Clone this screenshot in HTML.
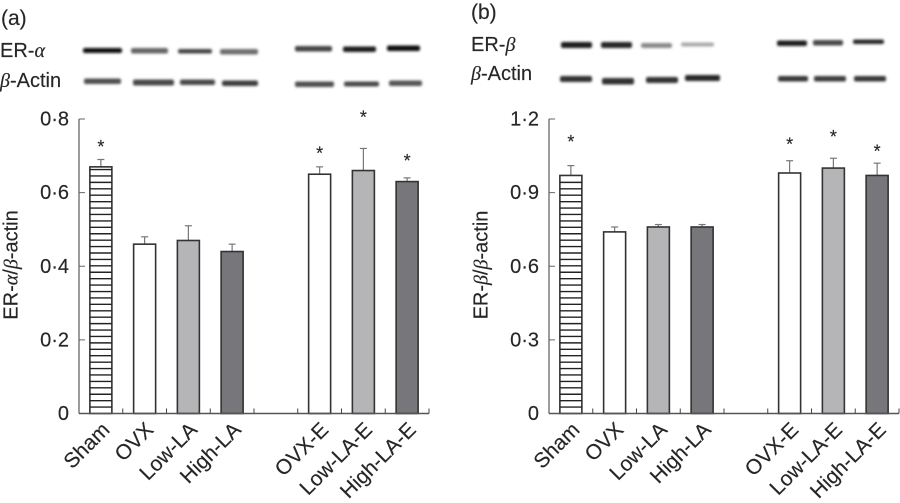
<!DOCTYPE html>
<html lang="en">
<head>
<meta charset="utf-8">
<title>ER-alpha and ER-beta western blots</title>
<style>
html,body{margin:0;padding:0;background:#fff;width:900px;height:503px;overflow:hidden}
svg{display:block}
text{font-family:"Liberation Sans",sans-serif;fill:#262626;stroke:#262626;stroke-width:0.15px}
.gr{font-family:"Liberation Serif",serif;font-style:italic}
</style>
</head>
<body>
<svg id="fig" width="900" height="503" viewBox="0 0 900 503" xmlns="http://www.w3.org/2000/svg">
<defs>
<filter id="blur" x="-20%" y="-200%" width="140%" height="500%"><feGaussianBlur stdDeviation="1.2"/></filter>
</defs>
<rect width="900" height="503" fill="#fff"/>

<text x="1" y="25" font-size="21">(a)</text>
<text x="0" y="57" font-size="20">ER-<tspan class="gr">α</tspan></text>
<text x="0" y="87" font-size="20"><tspan class="gr">β</tspan>-Actin</text>
<text x="471" y="19" font-size="21">(b)</text>
<text x="471" y="51" font-size="20">ER-<tspan class="gr">β</tspan></text>
<text x="471" y="80" font-size="20"><tspan class="gr">β</tspan>-Actin</text>

<g filter="url(#blur)">
<rect x="83" y="48" width="39" height="5" rx="2" fill="#111"/>
<rect x="131" y="48" width="37" height="5.5" rx="2" fill="#666"/>
<rect x="178" y="49" width="34" height="4.5" rx="2" fill="#444"/>
<rect x="220" y="49" width="38" height="5.5" rx="2" fill="#6e6e6e"/>
<rect x="295" y="46" width="37" height="5.5" rx="2" fill="#444"/>
<rect x="343" y="46.5" width="33" height="5.5" rx="2" fill="#1c1c1c"/>
<rect x="387" y="45.5" width="33" height="5.5" rx="2" fill="#111"/>
</g>
<g filter="url(#blur)">
<rect x="84" y="78.5" width="37" height="5.5" rx="2" fill="#505050"/>
<rect x="133" y="79.5" width="41" height="6" rx="2" fill="#4a4a4a"/>
<rect x="180" y="79.5" width="35" height="5.5" rx="2" fill="#4a4a4a"/>
<rect x="222" y="80.5" width="36" height="5.5" rx="2" fill="#3c3c3c"/>
<rect x="295" y="81.5" width="39" height="5.5" rx="2" fill="#505050"/>
<rect x="344" y="81.5" width="35" height="5" rx="2" fill="#484848"/>
<rect x="389" y="80.5" width="33" height="5.5" rx="2" fill="#555"/>
</g>
<g filter="url(#blur)">
<rect x="561" y="42" width="31" height="6" rx="2" fill="#1a1a1a"/>
<rect x="601" y="42" width="31" height="6" rx="2" fill="#282828"/>
<rect x="641" y="43" width="31" height="5" rx="2" fill="#8a8a8a"/>
<rect x="681" y="42.5" width="33" height="4" rx="2" fill="#a8a8a8"/>
<rect x="777" y="40.5" width="30" height="5.5" rx="2" fill="#1c1c1c"/>
<rect x="813" y="40" width="30" height="5.5" rx="2" fill="#484848"/>
<rect x="853" y="39.5" width="31" height="4.5" rx="2" fill="#282828"/>
</g>
<g filter="url(#blur)">
<rect x="560" y="76" width="32" height="6" rx="2" fill="#303030"/>
<rect x="602" y="78" width="32" height="6.5" rx="2" fill="#303030"/>
<rect x="646" y="77" width="32" height="6" rx="2" fill="#303030"/>
<rect x="685" y="75" width="35" height="6" rx="2" fill="#282828"/>
<rect x="778" y="76" width="30" height="5.5" rx="2" fill="#383838"/>
<rect x="814" y="76" width="32" height="5.5" rx="2" fill="#3c3c3c"/>
<rect x="854" y="76" width="32" height="5.5" rx="2" fill="#383838"/>
</g>

<text transform="translate(17.5,265) rotate(-90)" text-anchor="middle" font-size="20">ER-<tspan class="gr">α</tspan>/<tspan class="gr">β</tspan>-actin</text>
<text transform="translate(487.5,265) rotate(-90)" text-anchor="middle" font-size="20">ER-<tspan class="gr">β</tspan>/<tspan class="gr">β</tspan>-actin</text>
</svg>

<script>
const categories = ['Sham', 'OVX', 'Low-LA', 'High-LA', 'OVX-E', 'Low-LA-E', 'High-LA-E'];
const categorySlots = [0, 1, 2, 3, 5, 6, 7];
const fillStyles = ['hatch', '#ffffff', '#b5b5b8', '#77777b', '#ffffff', '#b5b5b8', '#77777b'];

const alphaValues = [0.67, 0.46, 0.47, 0.44, 0.65, 0.66, 0.63];
const alphaErrors = [0.02, 0.02, 0.04, 0.02, 0.02, 0.06, 0.01];
const alphaStarLevels = [0.738, null, null, null, 0.72, 0.818, 0.70];
const alphaTicks = ['0', '0·2', '0·4', '0·6', '0·8'];
const alphaTickValues = [0, 0.2, 0.4, 0.6, 0.8];

const betaValues = [0.97, 0.74, 0.76, 0.76, 0.98, 1.0, 0.97];
const betaErrors = [0.04, 0.02, 0.01, 0.01, 0.05, 0.04, 0.05];
const betaStarLevels = [1.127, null, null, null, 1.117, 1.147, 1.087];
const betaTicks = ['0', '0·3', '0·6', '0·9', '1·2'];
const betaTickValues = [0, 0.3, 0.6, 0.9, 1.2];

const svg = document.getElementById('fig');
const NS = 'http://www.w3.org/2000/svg';

function make(tag, attrs, parent) {
  const el = document.createElementNS(NS, tag);
  for (const k in attrs) el.setAttribute(k, attrs[k]);
  parent.appendChild(el);
  return el;
}

function drawPanel(originX, maxValue, values, errors, stars, tickLabels, tickValues, prefix) {
  const top = 119, base = 413.5, slotW = 43.75, barW = 22;
  const yScale = v => base - (v / maxValue) * (base - top);
  const xScale = s => originX + slotW * (s + 0.5);

  const g = make('g', {}, svg);
  
  

  categories.forEach((cat, i) => {
    const cx = xScale(categorySlots[i]);
    const yTop = yScale(values[i]);
    const yErr = yScale(values[i] + errors[i]);

    const errLine = make('line', {x1: cx, x2: cx, y1: yTop, y2: yErr, stroke: '#777', 'stroke-width': 1.2}, g);
    
    
    const errCap = make('line', {x1: cx - 3.5, x2: cx + 3.5, y1: yErr, y2: yErr, stroke: '#777', 'stroke-width': 1.2}, g);
    
    

    const hatch = fillStyles[i] === 'hatch';
    const bar = make('rect', {
      x: cx - barW / 2, y: yTop, width: barW, height: base - yTop,
      fill: hatch ? '#ffffff' : fillStyles[i], stroke: '#333', 'stroke-width': 1.6
    }, g);
    
    

    if (hatch) {
      for (let y = base - 6.42; y > yTop + 2; y -= 6.42) {
        const hl = make('line', {x1: cx - barW / 2, x2: cx + barW / 2, y1: y, y2: y, stroke: '#222', 'stroke-width': 1.4}, g);
        
        
      }
    }

    if (stars[i] !== null) {
      const star = make('text', {x: cx, y: yScale(stars[i]) + 11, 'text-anchor': 'middle', 'font-size': 18}, g);
      star.textContent = '*';
      
      
    }

    const lx = cx + 10, ly = 431;
    const lab = make('text', {transform: 'translate(' + lx + ',' + ly + ') rotate(-45)', 'text-anchor': 'end', 'font-size': 21}, g);
    lab.textContent = cat;
    
    
  });

  const yAxis = make('line', {x1: originX, x2: originX, y1: top, y2: base, stroke: '#666', 'stroke-width': 1.3}, g);
  
  
  const xAxis = make('line', {x1: originX, x2: originX + slotW * 8, y1: base, y2: base, stroke: '#555', 'stroke-width': 1.5}, g);
  
  

  for (let k = 1; k <= 8; k++) {
    const tx = originX + slotW * k;
    const xt = make('line', {x1: tx, x2: tx, y1: base, y2: base - 5, stroke: '#444', 'stroke-width': 1}, g);
    
    
  }

  tickValues.forEach((v, i) => {
    const ty = yScale(v);
    if (v !== 0) {
      const yt = make('line', {x1: originX, x2: originX + 6, y1: ty, y2: ty, stroke: '#666', 'stroke-width': 1}, g);
      
      
    }
    const tl = make('text', {x: originX - 10, y: ty + 6.5, 'text-anchor': 'end', 'font-size': 20}, g);
    tl.textContent = tickLabels[i];
    
    
  });
}

drawPanel(79, 0.8, alphaValues, alphaErrors, alphaStarLevels, alphaTicks, alphaTickValues, 'er-alpha');
drawPanel(549, 1.2, betaValues, betaErrors, betaStarLevels, betaTicks, betaTickValues, 'er-beta');
</script>
</body>
</html>
